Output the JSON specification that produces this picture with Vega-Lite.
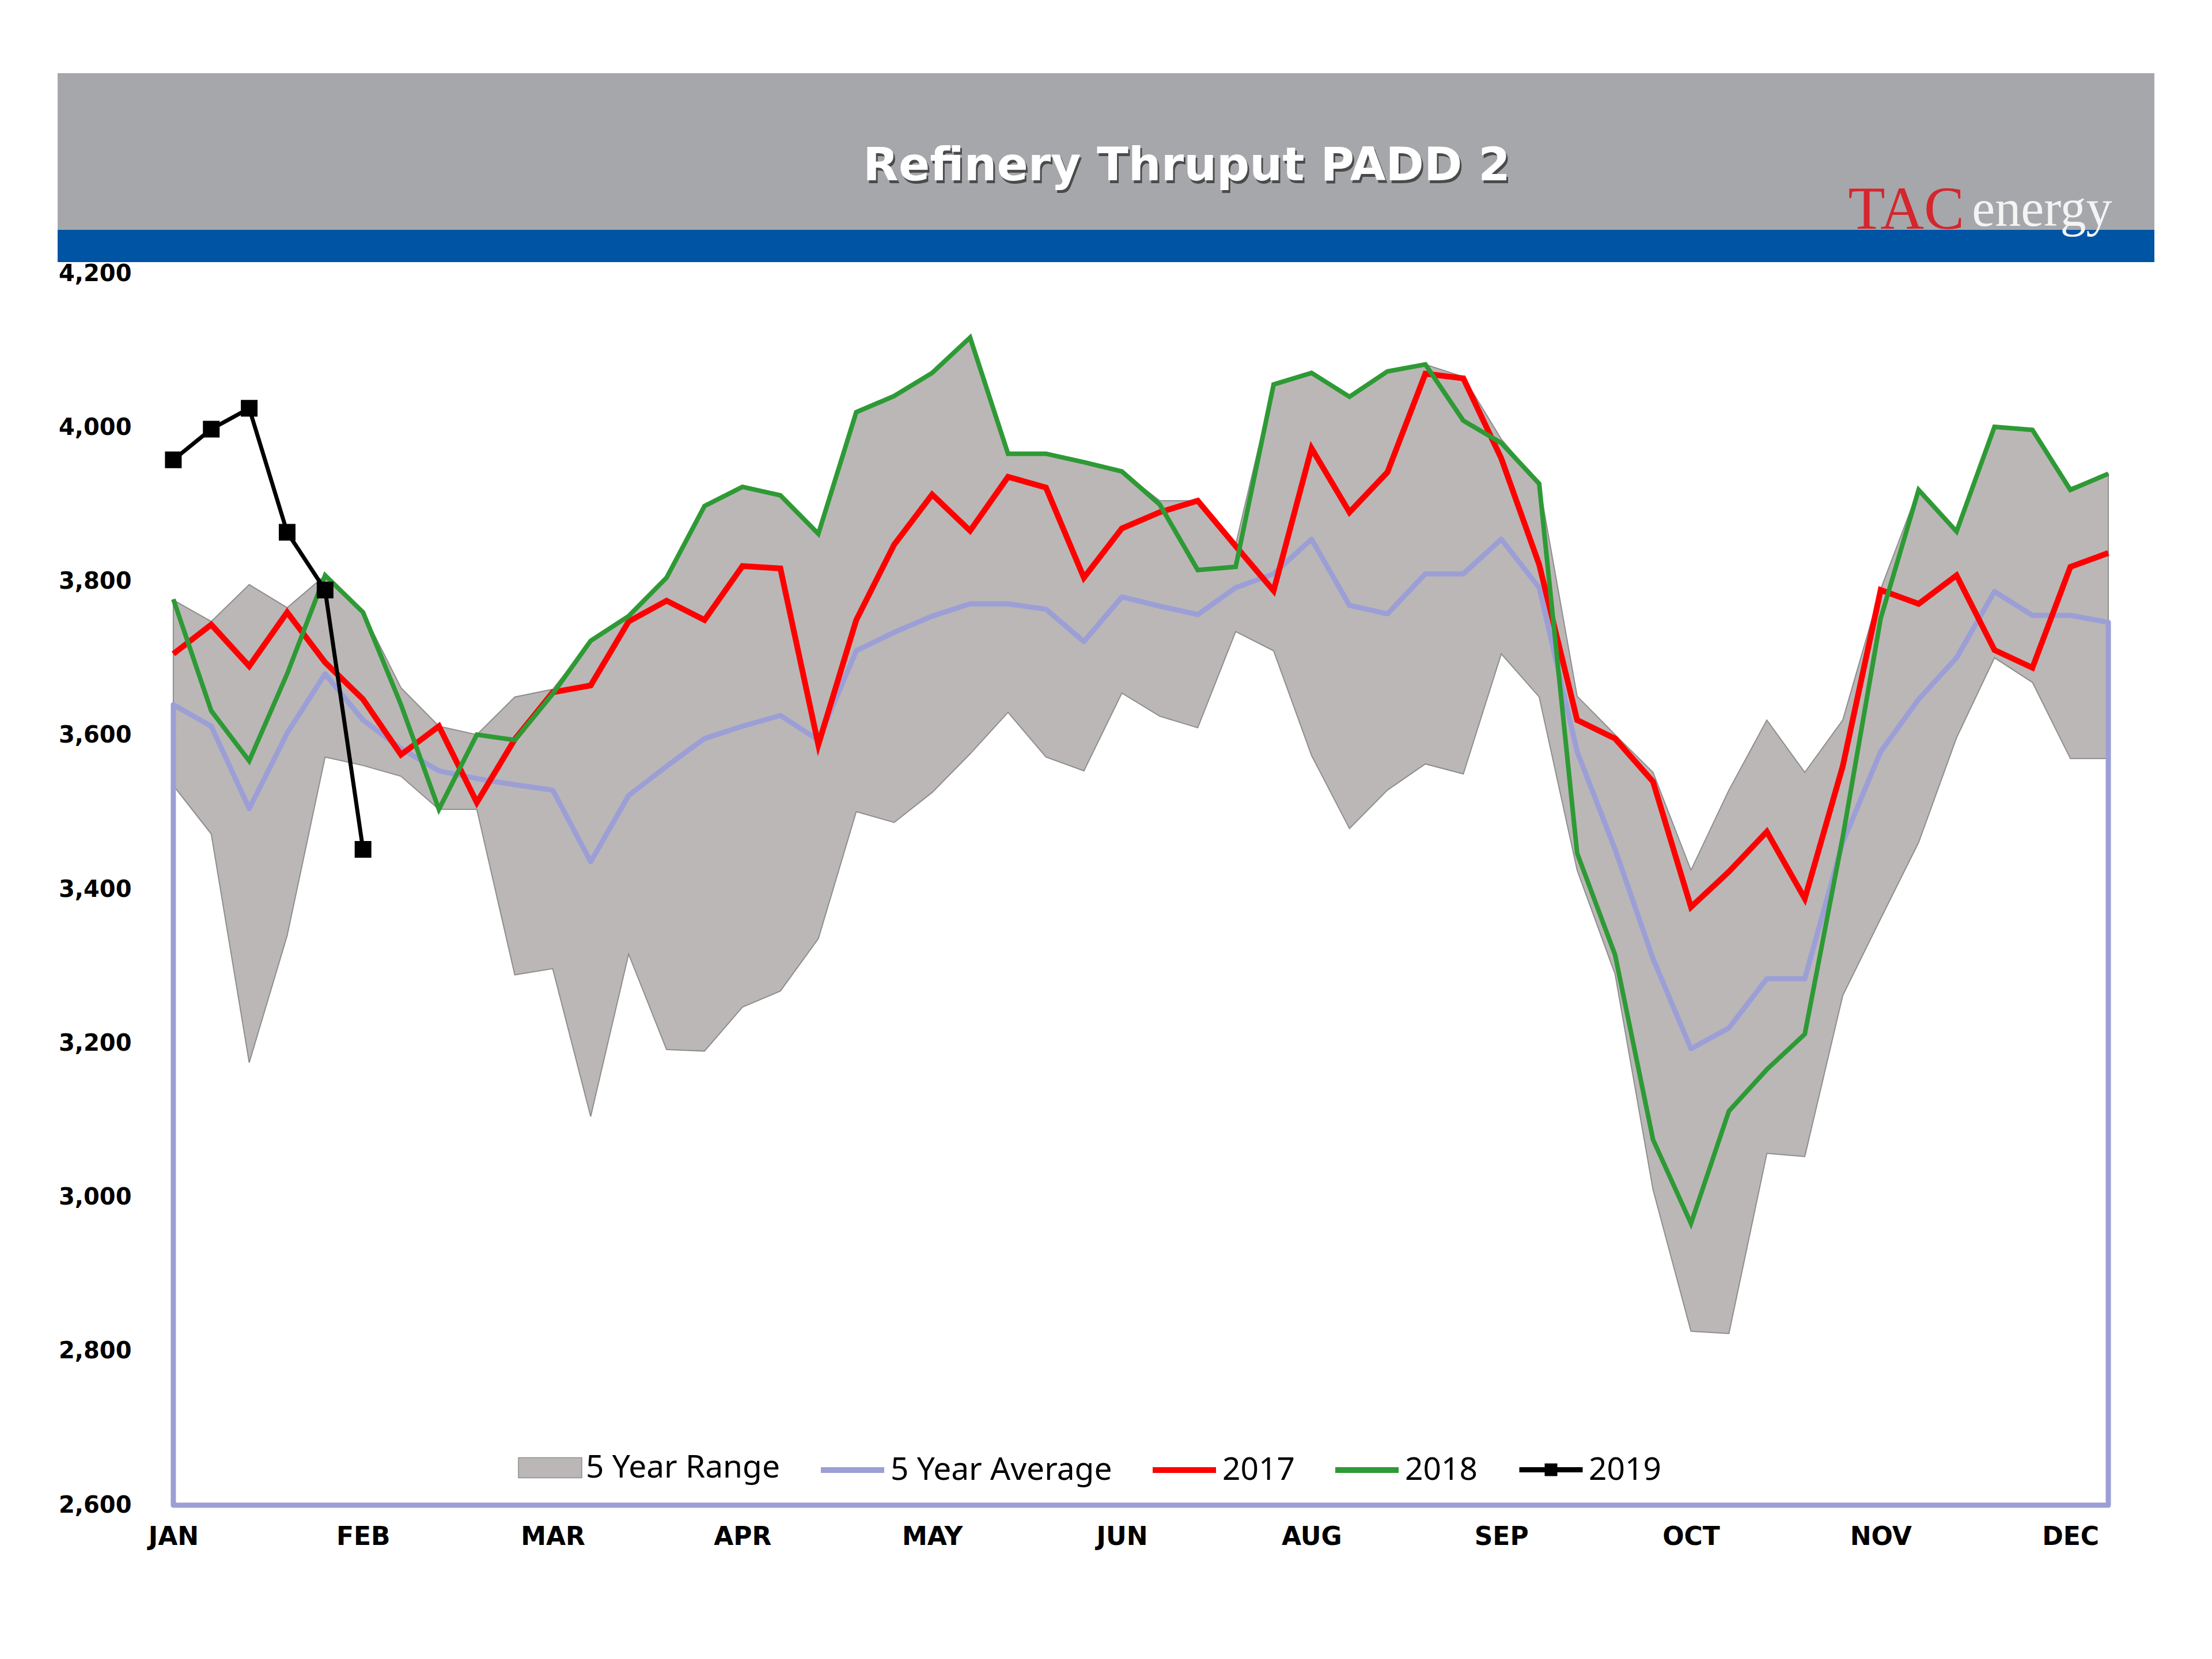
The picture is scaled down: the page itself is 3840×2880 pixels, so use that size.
{
  "$schema": "https://vega.github.io/schema/vega-lite/v6.json",
  "background": "white",
  "padding": {"left": 100, "right": 100, "top": 127, "bottom": 10},
  "spacing": 0,
  "config": {"view": {"stroke": null}, "concat": {"spacing": 0}, "font": "DejaVu Sans"},
  "vconcat": [
    {
      "width": 3640,
      "height": 328,
      "view": {"fill": "#a6a7ab", "stroke": null},
      "layer": [
        {
          "data": {"values": [{"band": "blue"}]},
          "mark": {"type": "rect", "color": "#0054a4"},
          "encoding": {
            "x": {"datum": 0, "type": "quantitative", "scale": {"domain": [0, 1], "nice": false}, "axis": null},
            "x2": {"datum": 1},
            "y": {"datum": 0, "type": "quantitative", "scale": {"domain": [0, 1], "nice": false}, "axis": null},
            "y2": {"datum": 0.1707}
          }
        },
        {
          "data": {"values": [{"t": "Refinery Thruput PADD 2"}]},
          "mark": {"type": "text", "font": "DejaVu Sans", "fontWeight": "bold", "fontSize": 80, "color": "#4a4a4a", "align": "center", "baseline": "middle", "dx": 3, "dy": 5},
          "encoding": {
            "x": {"datum": 0.5385, "type": "quantitative"},
            "y": {"datum": 0.506, "type": "quantitative"},
            "text": {"field": "t"}
          }
        },
        {
          "data": {"values": [{"t": "Refinery Thruput PADD 2"}]},
          "mark": {"type": "text", "font": "DejaVu Sans", "fontWeight": "bold", "fontSize": 80, "color": "#ffffff", "align": "center", "baseline": "middle"},
          "encoding": {
            "x": {"datum": 0.5385, "type": "quantitative"},
            "y": {"datum": 0.506, "type": "quantitative"},
            "text": {"field": "t"}
          }
        },
        {
          "data": {"values": [{"t": "TAC"}]},
          "mark": {"type": "text", "font": "Liberation Serif", "fontSize": 105, "color": "#d4262c", "align": "left", "baseline": "alphabetic"},
          "encoding": {
            "x": {"datum": 0.854, "type": "quantitative"},
            "y": {"datum": 0.177, "type": "quantitative"},
            "text": {"field": "t"}
          }
        },
        {
          "data": {"values": [{"t": "energy"}]},
          "mark": {"type": "text", "font": "Liberation Serif", "fontSize": 90, "color": "#f4f4f4", "align": "left", "baseline": "alphabetic"},
          "encoding": {
            "x": {"datum": 0.913, "type": "quantitative"},
            "y": {"datum": 0.192, "type": "quantitative"},
            "text": {"field": "t"}
          }
        }
      ]
    },
    {
      "width": 3560,
      "height": 2138,
      "data": {
        "values": [
          {"week": 1, "hi": 3776, "lo": 3535, "avg": 3640, "y2017": 3706, "y2018": 3777, "y2019": 3958},
          {"week": 2, "hi": 3748, "lo": 3472, "avg": 3612, "y2017": 3744, "y2018": 3632, "y2019": 3998},
          {"week": 3, "hi": 3796, "lo": 3175, "avg": 3505, "y2017": 3690, "y2018": 3567, "y2019": 4025},
          {"week": 4, "hi": 3766, "lo": 3340, "avg": 3603, "y2017": 3760, "y2018": 3680, "y2019": 3864},
          {"week": 5, "hi": 3808, "lo": 3572, "avg": 3680, "y2017": 3695, "y2018": 3808, "y2019": 3789},
          {"week": 6, "hi": 3760, "lo": 3561, "avg": 3620, "y2017": 3647, "y2018": 3760, "y2019": 3452},
          {"week": 7, "hi": 3662, "lo": 3547, "avg": 3583, "y2017": 3575, "y2018": 3640, "y2019": null},
          {"week": 8, "hi": 3612, "lo": 3504, "avg": 3554, "y2017": 3612, "y2018": 3504, "y2019": null},
          {"week": 9, "hi": 3601, "lo": 3504, "avg": 3544, "y2017": 3513, "y2018": 3601, "y2019": null},
          {"week": 10, "hi": 3650, "lo": 3289, "avg": 3536, "y2017": 3595, "y2018": 3594, "y2019": null},
          {"week": 11, "hi": 3660, "lo": 3297, "avg": 3529, "y2017": 3656, "y2018": 3654, "y2019": null},
          {"week": 12, "hi": 3723, "lo": 3105, "avg": 3436, "y2017": 3665, "y2018": 3723, "y2019": null},
          {"week": 13, "hi": 3755, "lo": 3316, "avg": 3522, "y2017": 3748, "y2018": 3755, "y2019": null},
          {"week": 14, "hi": 3805, "lo": 3192, "avg": 3560, "y2017": 3775, "y2018": 3805, "y2019": null},
          {"week": 15, "hi": 3898, "lo": 3190, "avg": 3596, "y2017": 3750, "y2018": 3898, "y2019": null},
          {"week": 16, "hi": 3923, "lo": 3247, "avg": 3612, "y2017": 3820, "y2018": 3923, "y2019": null},
          {"week": 17, "hi": 3914, "lo": 3268, "avg": 3626, "y2017": 3817, "y2018": 3912, "y2019": null},
          {"week": 18, "hi": 3862, "lo": 3336, "avg": 3594, "y2017": 3588, "y2018": 3862, "y2019": null},
          {"week": 19, "hi": 4020, "lo": 3501, "avg": 3710, "y2017": 3750, "y2018": 4020, "y2019": null},
          {"week": 20, "hi": 4041, "lo": 3487, "avg": 3734, "y2017": 3848, "y2018": 4041, "y2019": null},
          {"week": 21, "hi": 4072, "lo": 3526, "avg": 3755, "y2017": 3913, "y2018": 4071, "y2019": null},
          {"week": 22, "hi": 4117, "lo": 3576, "avg": 3771, "y2017": 3866, "y2018": 4117, "y2019": null},
          {"week": 23, "hi": 3966, "lo": 3630, "avg": 3771, "y2017": 3936, "y2018": 3966, "y2019": null},
          {"week": 24, "hi": 3966, "lo": 3572, "avg": 3764, "y2017": 3922, "y2018": 3966, "y2019": null},
          {"week": 25, "hi": 3955, "lo": 3554, "avg": 3722, "y2017": 3805, "y2018": 3955, "y2019": null},
          {"week": 26, "hi": 3943, "lo": 3655, "avg": 3780, "y2017": 3869, "y2018": 3943, "y2019": null},
          {"week": 27, "hi": 3905, "lo": 3625, "avg": 3768, "y2017": 3890, "y2018": 3900, "y2019": null},
          {"week": 28, "hi": 3905, "lo": 3610, "avg": 3757, "y2017": 3905, "y2018": 3815, "y2019": null},
          {"week": 29, "hi": 3848, "lo": 3735, "avg": 3792, "y2017": 3846, "y2018": 3819, "y2019": null},
          {"week": 30, "hi": 4057, "lo": 3710, "avg": 3810, "y2017": 3788, "y2018": 4056, "y2019": null},
          {"week": 31, "hi": 4072, "lo": 3574, "avg": 3855, "y2017": 3973, "y2018": 4071, "y2019": null},
          {"week": 32, "hi": 4041, "lo": 3479, "avg": 3769, "y2017": 3890, "y2018": 4040, "y2019": null},
          {"week": 33, "hi": 4073, "lo": 3529, "avg": 3758, "y2017": 3942, "y2018": 4073, "y2019": null},
          {"week": 34, "hi": 4082, "lo": 3563, "avg": 3810, "y2017": 4070, "y2018": 4082, "y2019": null},
          {"week": 35, "hi": 4066, "lo": 3550, "avg": 3810, "y2017": 4064, "y2018": 4009, "y2019": null},
          {"week": 36, "hi": 3985, "lo": 3706, "avg": 3855, "y2017": 3960, "y2018": 3980, "y2019": null},
          {"week": 37, "hi": 3927, "lo": 3650, "avg": 3792, "y2017": 3822, "y2018": 3927, "y2019": null},
          {"week": 38, "hi": 3651, "lo": 3425, "avg": 3579, "y2017": 3620, "y2018": 3447, "y2019": null},
          {"week": 39, "hi": 3601, "lo": 3290, "avg": 3452, "y2017": 3596, "y2018": 3315, "y2019": null},
          {"week": 40, "hi": 3552, "lo": 3010, "avg": 3310, "y2017": 3540, "y2018": 3075, "y2019": null},
          {"week": 41, "hi": 3425, "lo": 2826, "avg": 3193, "y2017": 3377, "y2018": 2966, "y2019": null},
          {"week": 42, "hi": 3529, "lo": 2823, "avg": 3220, "y2017": 3423, "y2018": 3112, "y2019": null},
          {"week": 43, "hi": 3620, "lo": 3057, "avg": 3284, "y2017": 3475, "y2018": 3166, "y2019": null},
          {"week": 44, "hi": 3552, "lo": 3053, "avg": 3284, "y2017": 3388, "y2018": 3212, "y2019": null},
          {"week": 45, "hi": 3620, "lo": 3262, "avg": 3461, "y2017": 3560, "y2018": 3468, "y2019": null},
          {"week": 46, "hi": 3790, "lo": 3362, "avg": 3579, "y2017": 3789, "y2018": 3752, "y2019": null},
          {"week": 47, "hi": 3920, "lo": 3461, "avg": 3647, "y2017": 3771, "y2018": 3919, "y2019": null},
          {"week": 48, "hi": 3866, "lo": 3597, "avg": 3701, "y2017": 3808, "y2018": 3865, "y2019": null},
          {"week": 49, "hi": 4002, "lo": 3701, "avg": 3787, "y2017": 3711, "y2018": 4001, "y2019": null},
          {"week": 50, "hi": 3998, "lo": 3669, "avg": 3756, "y2017": 3688, "y2018": 3997, "y2019": null},
          {"week": 51, "hi": 3922, "lo": 3570, "avg": 3756, "y2017": 3819, "y2018": 3919, "y2019": null},
          {"week": 52, "hi": 3940, "lo": 3570, "avg": 3747, "y2017": 3837, "y2018": 3940, "y2019": null}
        ]
      },
      "layer": [
        {
          "mark": {"type": "area", "stroke": "#8e8e8e", "strokeWidth": 2, "opacity": 1},
          "encoding": {
            "x": {
              "field": "week", "type": "quantitative",
              "scale": {"domain": [-2.05, 52], "nice": false, "zero": false},
              "axis": {
                "values": [1, 6, 11, 16, 21, 26, 31, 36, 41, 46, 51],
                "labelExpr": "['JAN','FEB','MAR','APR','MAY','JUN','AUG','SEP','OCT','NOV','DEC'][round((datum.value-1)/5)]",
                "title": null, "grid": false, "ticks": false, "domain": false,
                "labelFont": "DejaVu Sans", "labelFontWeight": "bold", "labelFontSize": 44,
                "labelColor": "#000000", "labelPadding": 33, "labelFlush": false, "labelOverlap": false
              }
            },
            "y": {
              "field": "hi", "type": "quantitative",
              "scale": {"domain": [2600, 4200], "nice": false, "zero": false},
              "axis": {
                "values": [2600, 2800, 3000, 3200, 3400, 3600, 3800, 4000, 4200],
                "format": ",.0f", "title": null, "grid": false, "ticks": false, "domain": false,
                "offset": -201,
                "labelFont": "DejaVu Sans", "labelFontWeight": "bold", "labelFontSize": 40,
                "labelColor": "#000000", "labelPadding": 73
              }
            },
            "y2": {"field": "lo"},
            "fill": {
              "datum": "5 Year Range",
              "scale": {"domain": ["5 Year Range"], "range": ["#bbb7b7"]},
              "legend": {
                "title": null, "orient": "none", "legendX": 799, "legendY": 2365,
                "direction": "horizontal",
                "labelFont": "Noto Sans", "labelFontSize": 55, "labelColor": "#000000", "labelLimit": 0,
                "labelOffset": 6, "symbolSize": 12100,
                "symbolType": "M-1,-0.32H1V0.32H-1Z", "symbolOpacity": 1
              }
            }
          }
        },
        {
          "mark": {"type": "area", "filled": false, "strokeWidth": 9, "strokeJoin": "round"},
          "encoding": {
            "x": {"field": "week", "type": "quantitative"},
            "y": {"field": "avg", "type": "quantitative"},
            "y2": {"datum": 2600},
            "color": {
              "datum": "5 Year Average",
              "scale": {
                "domain": ["5 Year Average", "2017", "2018"],
                "range": ["#9c9fd6", "#ff0000", "#2e9a35"]
              },
              "legend": {
                "title": null, "orient": "none", "legendX": 1320, "legendY": 2365,
                "direction": "horizontal", "columns": 3, "columnPadding": 50,
                "labelFont": "Noto Sans", "labelFontSize": 55, "labelColor": "#000000", "labelLimit": 0,
                "labelOffset": 6, "symbolSize": 12100, "symbolStrokeWidth": 10,
                "symbolType": "M-1,0H1", "symbolOpacity": 1
              }
            }
          }
        },
        {
          "mark": {"type": "line", "strokeWidth": 10, "strokeJoin": "miter"},
          "encoding": {
            "x": {"field": "week", "type": "quantitative"},
            "y": {"field": "y2017", "type": "quantitative"},
            "color": {"datum": "2017"}
          }
        },
        {
          "mark": {"type": "line", "strokeWidth": 8, "strokeJoin": "miter"},
          "encoding": {
            "x": {"field": "week", "type": "quantitative"},
            "y": {"field": "y2018", "type": "quantitative"},
            "color": {"datum": "2018"}
          }
        },
        {
          "mark": {"type": "line", "strokeWidth": 7, "point": {"shape": "square", "size": 729, "filled": true, "fill": "#000000", "opacity": 1}},
          "encoding": {
            "x": {"field": "week", "type": "quantitative"},
            "y": {"field": "y2019", "type": "quantitative"},
            "stroke": {
              "datum": "2019",
              "scale": {"domain": ["2019"], "range": ["#000000"]},
              "legend": {
                "title": null, "orient": "none", "legendX": 2533, "legendY": 2365,
                "direction": "horizontal",
                "labelFont": "Noto Sans", "labelFontSize": 55, "labelColor": "#000000", "labelLimit": 0,
                "labelOffset": 6, "symbolSize": 12100, "symbolStrokeWidth": 9,
                "symbolType": "M-1,0H1M-0.2,-0.12H0.2M-0.2,0H0.2M-0.2,0.12H0.2", "symbolOpacity": 1
              }
            }
          }
        }
      ]
    }
  ]
}
